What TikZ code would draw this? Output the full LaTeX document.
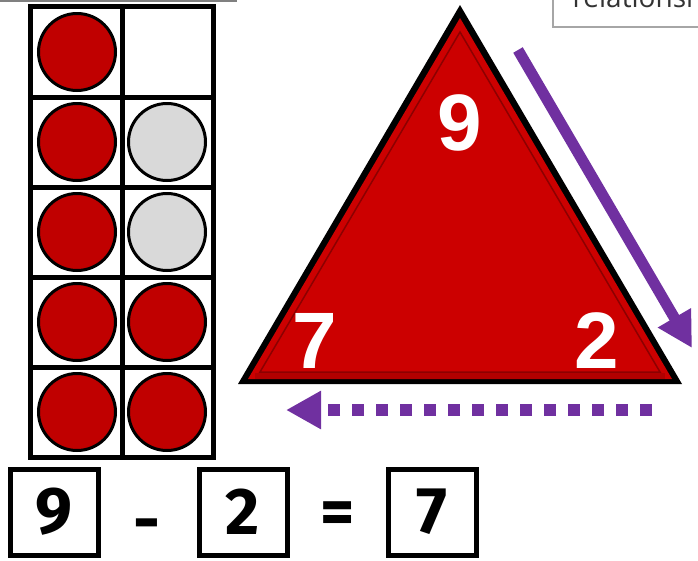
\documentclass[tikz,border=0pt]{standalone}
\usepackage{fontspec}
\setmainfont{Liberation Sans}
\newfontfamily\eqfont{Fira Sans}
\newfontfamily\notefont{Open Sans}
\usetikzlibrary{arrows.meta}
\definecolor{counterred}{HTML}{C00000}
\definecolor{counterhole}{HTML}{D9D9D9}
\definecolor{trired}{HTML}{CC0000}
\definecolor{arrowpurple}{HTML}{7030A0}

\begin{document}
\begin{tikzpicture}[x=1pt, y=-1pt,
    frame/.style={draw, line width=5pt},
    counter/.style={circle, draw, line width=3pt, minimum size=77pt, inner sep=0pt},
    numbox/.style={draw, line width=5pt, minimum width=88pt, minimum height=86pt, inner sep=0pt, font=\eqfont\bfseries\fontsize{66}{66}\selectfont},
    sign/.style={font=\eqfont\bfseries\fontsize{66}{66}\selectfont},
    corner/.style={text=white, font=\bfseries\fontsize{80}{80}\selectfont},
    purparrow/.style={draw=arrowpurple, line width=11pt, -{Triangle[length=35pt, width=36pt]}}]
        \useasboundingbox (0,0) rectangle (698,560);

        % Top rules
        \draw[gray, line width=2pt] (0,0.5) -- (237,0.5);
        \begin{scope}
            \clip (540,0) rectangle (698,40);
            \draw[gray!70, line width=1.5pt, fill=white] (553,-10) rectangle (710,27);
            \node[anchor=base west, font=\notefont\fontsize{28}{28}\selectfont, text=black!80] (note) at (569,7) {relationship};
        \end{scope}

        % Draw ten frame
        \draw[frame] (30,6) rectangle (213,457);
        \draw[frame] (122,6) -- (122,457);
        \draw[frame] (30,97) -- (213,97);
        \draw[frame] (30,187) -- (213,187);
        \draw[frame] (30,277) -- (213,277);
        \draw[frame] (30,367) -- (213,367);

        % Draw counters
        \node[counter, fill=counterred] (l1) at (77,52) {};
        \node[counter, fill=counterred] (l2) at (77,142) {};
        \node[counter, fill=counterred] (l3) at (77,232) {};
        \node[counter, fill=counterred] (l4) at (77,322) {};
        \node[counter, fill=counterred] (l5) at (77,412) {};
        \node[counter, fill=counterhole] (r2) at (167,142) {};
        \node[counter, fill=counterhole] (r3) at (167,232) {};
        \node[counter, fill=counterred] (r4) at (167,322) {};
        \node[counter, fill=counterred] (r5) at (167,412) {};

        % Draw fact triangle
        \coordinate (top) at (460,5);
        \coordinate (left) at (238,384);
        \coordinate (right) at (682,384);
        \fill[black] (top) -- (left) -- (right) -- cycle;
        \fill[trired] (460,18) -- (248,379) -- (672,379) -- cycle;
        \draw[red!55!black, line width=1.5pt] (460,32) -- (260,372) -- (660,372) -- cycle;
        \fill[red!60!black, opacity=0.5] (255,373) rectangle (665,379);
        \node[corner] (whole) at (460,123) {9};
        \node[corner] (partA) at (315,341) {7};
        \node[corner] (partB) at (597,341) {2};

        % Draw arrows
        \coordinate (downstart) at (518,50);
        \coordinate (downend) at (692,348);
        \coordinate (backstart) at (652,410);
        \coordinate (backend) at (286,410);
        \draw[purparrow] (downstart) -- (downend);
        \draw[purparrow, line width=12pt, dash pattern=on 12pt off 12pt] (backstart) -- (backend);

        % Number sentence
        \node[numbox] (total) at (54,512) {9};
        \node[sign] (minus) at (147,531) {-};
        \node[numbox] (part) at (243,512) {2};
        \node[sign] (equals) at (338,518) {=};
        \node[numbox] (answer) at (432,512) {7};
    \end{tikzpicture}
\end{document}
